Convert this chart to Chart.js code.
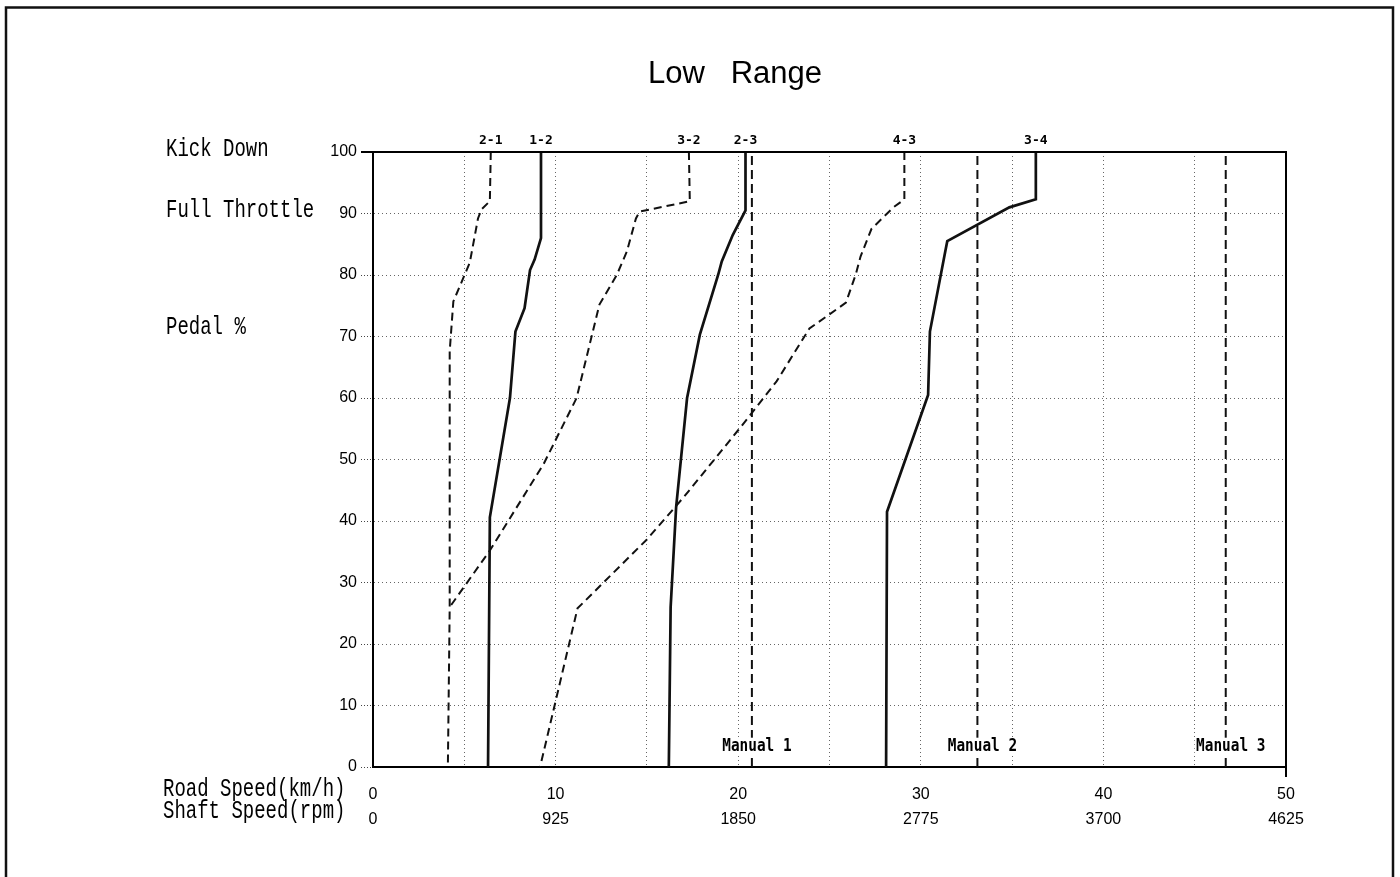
<!DOCTYPE html>
<html><head><meta charset="utf-8">
<script src="https://cdn.jsdelivr.net/npm/chart.js@4/dist/chart.umd.min.js"></script>
<style>html,body{margin:0;padding:0;background:#fff;}canvas{display:block}</style>
</head><body>
<canvas id="c" width="1400" height="877"></canvas>
<script>
// ---- data ----
const chartTitle = 'Low   Range';
const roadSpeedTicks = ['0','10','20','30','40','50'];
const shaftSpeedTicks = ['0','925','1850','2775','3700','4625'];

const speed21 = [6.45, 6.4, 5.95, 5.75, 5.3, 4.4, 4.2, 4.2, 4.1];
const pedal21 = [100, 92, 90.7, 89.2, 82, 75.7, 67.6, 26, 0];

const speed12 = [9.2, 9.2, 8.85, 8.6, 8.3, 7.8, 7.5, 6.4, 6.3];
const pedal12 = [100, 86, 82.5, 80.8, 74.6, 70.8, 60, 40.6, 0];

const speed32 = [17.3, 17.35, 14.6, 14.4, 13.9, 13.35, 12.4, 11.15, 9.35, 6.4, 4.2];
const pedal32 = [100, 92, 90.3, 89.2, 83.8, 80, 75.2, 60, 49.3, 35.2, 26];

const speed23 = [20.4, 20.4, 19.7, 19.1, 18.9, 17.9, 17.2, 16.6, 16.3, 16.2];
const pedal23 = [100, 90.5, 86.5, 82.2, 80, 70.3, 60, 42.2, 26, 0];

const speed43 = [29.1, 29.1, 28.5, 27.3, 26.7, 26.45, 25.9, 23.9, 22.1, 20.2, 17.05, 15.0, 11.2, 9.15];
const pedal43 = [100, 92.3, 91, 87.5, 83, 80.2, 75.5, 71.3, 62.7, 55.5, 44, 37, 25.8, 0];

const speed34 = [36.3, 36.3, 34.85, 31.45, 31.35, 30.5, 30.4, 28.15, 28.1];
const pedal34 = [100, 92.3, 91, 85.5, 84, 70.8, 60.5, 41.5, 0];

const curveNames = ['2-1', '1-2', '3-2', '2-3', '4-3', '3-4'];
const curveSpeeds = [speed21, speed12, speed32, speed23, speed43, speed34];
const curvePedals = [pedal21, pedal12, pedal32, pedal23, pedal43, pedal34];
const curveIsDown = [true, false, true, false, true, false];

const manualNames = ['Manual 1', 'Manual 2', 'Manual 3'];
const manualSpeeds = [20.75, 33.1, 46.7];
const manualPedalRange = [0, 100];

const sideLabels = ['Kick Down', 'Full Throttle', 'Pedal %'];
const sideLabelPedal = [100, 90, 71];
const axisNames = ['Road Speed(km/h)', 'Shaft Speed(rpm)'];

// ---- datasets ----
const datasets = [];
curveNames.forEach((name, k) => {
  datasets.push({
    label: name,
    data: curveSpeeds[k].map((s, i) => ({x: s, y: curvePedals[k][i]})),
    showLine: true, fill: false, tension: 0,
    borderColor: '#111', backgroundColor: '#111',
    borderWidth: curveIsDown[k] ? 2 : 2.7,
    borderDash: curveIsDown[k] ? [8, 5] : [],
    pointRadius: 0, pointHoverRadius: 0
  });
});
manualNames.forEach((name, k) => {
  datasets.push({
    label: name,
    data: manualPedalRange.map(p => ({x: manualSpeeds[k], y: p})),
    showLine: true, fill: false,
    borderColor: '#111', borderWidth: 2, borderDash: [9, 5],
    pointRadius: 0, pointHoverRadius: 0
  });
});

const decor = {
  id: 'decor',
  afterDraw(chart) {
    const ctx = chart.ctx;
    const a = chart.chartArea;
    const xs = chart.scales.x, ys = chart.scales.y;
    ctx.save();
    // outer frame
    ctx.strokeStyle = '#111'; ctx.lineWidth = 2.5;
    ctx.strokeRect(6, 7.5, 1387, 900);
    // plot frame top/right
    ctx.lineWidth = 2; ctx.strokeStyle = '#000';
    ctx.beginPath();
    ctx.moveTo(a.left - 12, a.top); ctx.lineTo(a.right, a.top); ctx.lineTo(a.right, a.bottom + 10);
    ctx.stroke();
    // title
    ctx.fillStyle = '#000';
    ctx.font = '31px "Liberation Sans", Arial, sans-serif';
    ctx.textAlign = 'center'; ctx.textBaseline = 'alphabetic';
    ctx.fillText(chartTitle, 735, 83);
    // side labels (narrow mono)
    const drawNarrow = (txt, x, y, font, sx) => {
      ctx.save();
      ctx.translate(x, y); ctx.scale(sx, 1);
      ctx.font = font; ctx.textAlign = 'left'; ctx.textBaseline = 'middle';
      ctx.fillText(txt, 0, 0);
      ctx.restore();
    };
    const sideFont = '25px "Liberation Mono", "Courier New", monospace';
    sideLabels.forEach((t, i) => {
      drawNarrow(t, 166, ys.getPixelForValue(sideLabelPedal[i]) - 3, sideFont, 0.76);
    });
    drawNarrow(axisNames[0], 163, 789, sideFont, 0.76);
    drawNarrow(axisNames[1], 163, 811, sideFont, 0.76);
    // curve labels above the top
    ctx.font = 'bold 13px "DejaVu Sans Mono", monospace';
    ctx.textAlign = 'center'; ctx.textBaseline = 'middle';
    curveNames.forEach((n, k) => {
      ctx.fillText(n, xs.getPixelForValue(curveSpeeds[k][0]), a.top - 11);
    });
    // manual labels on white background
    manualNames.forEach((n, k) => {
      const cx = xs.getPixelForValue(manualSpeeds[k]) + 5;
      const cy = ys.getPixelForValue(3.3);
      ctx.fillStyle = '#fff';
      ctx.fillRect(cx - 36, cy - 9, 72, 18);
      ctx.save();
      ctx.translate(cx, cy);
      ctx.scale(0.8, 1);
      ctx.fillStyle = '#000';
      ctx.font = 'bold 18px "DejaVu Sans Mono", monospace';
      ctx.textAlign = 'center'; ctx.textBaseline = 'middle';
      ctx.fillText(n, 0, 0);
      ctx.restore();
    });
    ctx.restore();
  }
};

new Chart(document.getElementById('c'), {
  type: 'scatter',
  data: {datasets},
  options: {
    responsive: false,
    animation: false,
    events: [],
    layout: {padding: {top: 152, right: 114, left: 0, bottom: 0}},
    plugins: {legend: {display: false}, tooltip: {enabled: false}, title: {display: false}},
    scales: {
      x: {
        type: 'linear', min: 0, max: 50,
        afterFit: s => { s.height = 110; },
        ticks: {
          stepSize: 5, autoSkip: false, maxRotation: 0, padding: 15,
          color: '#000',
          font: {family: '"Liberation Sans", Arial, sans-serif', size: 16, lineHeight: 1.55},
          callback: v => (v % 10 === 0 ? [roadSpeedTicks[v / 10], shaftSpeedTicks[v / 10]] : '')
        },
        grid: {color: '#666', lineWidth: 1, drawTicks: false},
        border: {display: true, color: '#000', width: 2, dash: [1, 3]}
      },
      y: {
        type: 'linear', min: 0, max: 100,
        afterFit: s => { s.width = 373; },
        ticks: {
          stepSize: 10, padding: 4, color: '#000',
          font: {family: '"Liberation Sans", Arial, sans-serif', size: 16}
        },
        grid: {color: '#666', lineWidth: 1, tickLength: 12, tickColor: '#444', tickBorderDash: [1, 2]},
        border: {display: true, color: '#000', width: 2, dash: [1, 3]}
      }
    }
  },
  plugins: [decor]
});
</script>
</body></html>
